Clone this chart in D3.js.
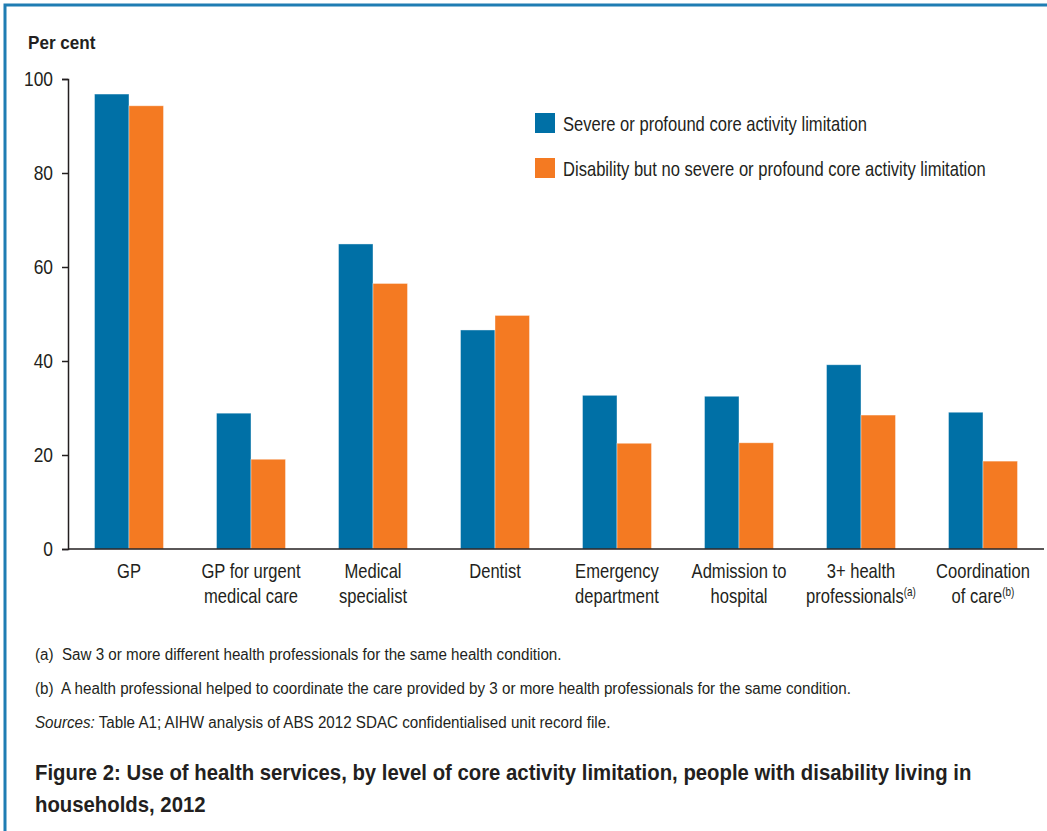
<!DOCTYPE html>
<html>
<head>
<meta charset="utf-8">
<script src="https://cdn.jsdelivr.net/npm/d3@7"></script>
<style>
  body { margin: 0; background: #fff; }
  text { font-family: "Liberation Sans", Arial, sans-serif; fill: #231f20; white-space: pre; }
</style>
</head>
<body>
<div id="chart"></div>
<script>
// data
var categories = ["GP", "GP for urgent medical care", "Medical specialist", "Dentist",
    "Emergency department", "Admission to hospital", "3+ health professionals", "Coordination of care"];
var categoryLines = [["GP"], ["GP for urgent", "medical care"], ["Medical", "specialist"], ["Dentist"],
    ["Emergency", "department"], ["Admission to", "hospital"], ["3+ health", "professionals"], ["Coordination", "of care"]];
var categoryNotes = ["", "", "", "", "", "", "(a)", "(b)"];
var seriesNames = ["Severe or profound core activity limitation",
    "Disability but no severe or profound core activity limitation"];
var severeValues = [96.8, 28.9, 64.9, 46.6, 32.7, 32.5, 39.2, 29.1];
var otherValues = [94.3, 19.1, 56.5, 49.7, 22.5, 22.6, 28.5, 18.7];
var yTicks = [0, 20, 40, 60, 80, 100];
var footnotes = ["(a)  Saw 3 or more different health professionals for the same health condition.",
    "(b)  A health professional helped to coordinate the care provided by 3 or more health professionals for the same condition."];
var sourceText = ["Sources:", " Table A1; AIHW analysis of ABS 2012 SDAC confidentialised unit record file."];
var titleLines = ["Figure 2: Use of health services, by level of core activity limitation, people with disability living in",
    "households, 2012"];

var colors = ["#0070a6", "#f47a22"];

var W = 1047, H = 831;
var svg = d3.select("#chart").append("svg")
    .attr("width", W)
    .attr("height", H);

// the original uses a condensed face; squeeze the available sans horizontally to match
function widthOf(str, size, weight) {
    var t = svg.append("text").attr("font-size", size).attr("font-weight", weight).text(str);
    var w = t.node().getComputedTextLength();
    t.remove();
    return w;
}
var kReg = 304 / widthOf(seriesNames[0], 20, "normal");
var kFoot = 527 / widthOf(footnotes[0], 16, "normal");
var kBold = 937 / widthOf(titleLines[0], 22, "bold");

function place(sel, x, y, k) {
    return sel.attr("transform", "translate(" + x + "," + y + ") scale(" + k + ",1)");
}

// frame
svg.append("path")
    .attr("d", "M5," + H + "V5H" + W)
    .attr("fill", "none")
    .attr("stroke", "#1f7db3")
    .attr("stroke-width", 3);

var x = d3.scaleBand()
    .domain(categories)
    .range([68, 1044]);

var xSub = d3.scaleBand()
    .domain([0, 1])
    .range([0, x.bandwidth()])
    .paddingOuter(0.768);

var y = d3.scaleLinear()
    .domain([0, 100])
    .range([549, 79]);

var rows = categories.map(function (c, i) {
    return { cat: c, vals: [severeValues[i], otherValues[i]] };
});

var groups = svg.selectAll("g.grp")
    .data(rows)
    .enter().append("g")
    .attr("class", "grp")
    .attr("transform", function (d) { return "translate(" + x(d.cat) + ",0)"; });

groups.selectAll("rect")
    .data(function (d) { return d.vals; })
    .enter().append("rect")
    .attr("x", function (d, i) { return xSub(i); })
    .attr("y", function (d) { return y(d); })
    .attr("width", xSub.bandwidth())
    .attr("height", function (d) { return y(0) - y(d); })
    .attr("fill", function (d, i) { return colors[i]; })
    .attr("stroke", "#ffffff")
    .attr("stroke-opacity", 0.5)
    .attr("stroke-width", 0.8);

// y axis
var yAxis = svg.append("g")
    .attr("transform", "translate(68,0)")
    .call(d3.axisLeft(y).tickValues(yTicks).tickSize(6));
yAxis.select(".domain").attr("stroke", "#231f20").attr("stroke-width", 1.5);
yAxis.selectAll(".tick line").attr("stroke", "#231f20").attr("stroke-width", 1.5);
yAxis.selectAll(".tick text")
    .attr("font-size", 21)
    .attr("font-family", null)
    .attr("fill", "#231f20")
    .attr("x", 0)
    .attr("dy", "0.3em")
    .attr("transform", "translate(-15,0) scale(" + kReg + ",1)");

// x axis line
svg.append("line")
    .attr("x1", 68).attr("x2", 1044)
    .attr("y1", y(0)).attr("y2", y(0))
    .attr("stroke", "#231f20")
    .attr("stroke-width", 1.5);

// x labels
categories.forEach(function (c, i) {
    var t = svg.append("text")
        .attr("text-anchor", "middle")
        .attr("font-size", 20);
    place(t, x(c) + x.bandwidth() / 2, 578, kReg);
    categoryLines[i].forEach(function (line, j) {
        t.append("tspan")
            .attr("x", 0)
            .attr("dy", j === 0 ? 0 : 25)
            .text(line);
        if (j === categoryLines[i].length - 1 && categoryNotes[i]) {
            t.append("tspan")
                .attr("dy", -7)
                .attr("font-size", 12)
                .text(categoryNotes[i]);
        }
    });
});

// y title
place(svg.append("text")
    .attr("font-size", 18.5)
    .attr("font-weight", "bold")
    .text("Per cent"), 28, 49, kBold);

// legend
var legend = svg.selectAll("g.leg")
    .data(seriesNames)
    .enter().append("g")
    .attr("class", "leg")
    .attr("transform", function (d, i) { return "translate(535," + (113 + i * 45) + ")"; });
legend.append("rect")
    .attr("width", 20).attr("height", 20)
    .attr("fill", function (d, i) { return colors[i]; });
legend.append("text")
    .attr("font-size", 20)
    .attr("transform", "translate(28,18) scale(" + kReg + ",1)")
    .text(function (d) { return d; });

// footnotes
footnotes.forEach(function (f, i) {
    place(svg.append("text")
        .attr("font-size", 16)
        .text(f), 35, 660 + i * 34, kFoot);
});
var src = svg.append("text")
    .attr("font-size", 16);
place(src, 35, 728, kFoot);
src.append("tspan").attr("font-style", "italic").text(sourceText[0]);
src.append("tspan").text(sourceText[1]);

// title
titleLines.forEach(function (l, i) {
    place(svg.append("text")
        .attr("font-size", 22)
        .attr("font-weight", "bold")
        .text(l), 35, 780 + i * 32, kBold);
});
</script>
</body>
</html>
